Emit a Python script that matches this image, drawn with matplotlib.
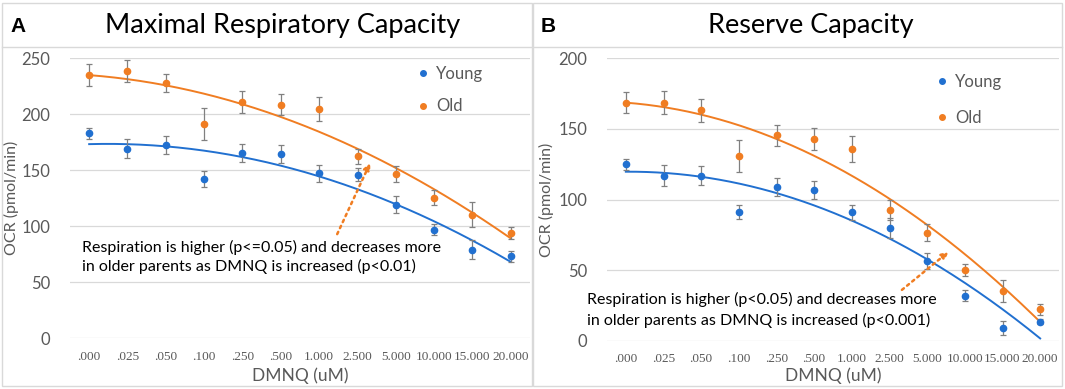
import numpy as np
import matplotlib.pyplot as plt
from matplotlib.patches import Rectangle
from matplotlib.lines import Line2D

plt.rcParams['font.family'] = ['Lato', 'DejaVu Sans']

# DMNQ concentrations (category axis)
doses = [".000", ".025", ".050", ".100", ".250", ".500", "1.000", "2.500",
         "5.000", "10.000", "15.000", "20.000"]

# Panel A: maximal respiratory capacity
max_young = [183, 169.4, 172.3, 142, 165.5, 164.3, 147.3, 146.2, 119.4, 97, 79.2, 73.2]
max_young_err = [5, 8.6, 8, 7, 8, 8, 7.5, 6, 7.8, 5, 8.5, 5]
max_old = [235, 238.7, 228, 191.3, 211, 208.6, 205, 162.5, 146.7, 125.6, 110.4, 94.3]
max_old_err = [10, 9.7, 8.3, 14, 9.5, 9.2, 10.7, 6.7, 7, 7, 11, 5.5]

# Panel B: reserve capacity
res_young = [124.9, 116.9, 116.9, 91.1, 108.8, 106.5, 90.9, 79.6, 56.4, 31.9, 8.8, 13.5]
res_young_err = [3.9, 7.3, 6.7, 4.8, 6.3, 6.4, 5.5, 7, 5.9, 4.1, 5, 1.7]
res_old = [168.6, 168.6, 163.2, 130.8, 145.5, 143.1, 136, 92.8, 76.5, 50.1, 35.4, 22.2]
res_old_err = [7.4, 8.3, 8.3, 11.1, 7.3, 7.8, 9.2, 7, 5.9, 4, 7.7, 4.1]

blue = "#2170d0"
orange = "#f07d22"
gray_txt = "#595959"
grid_c = "#d9d9d9"

W, H = 1065, 389
fig = plt.figure(figsize=(W / 100, H / 100), dpi=100)


def px_axes(left, right, top, bottom):
    return fig.add_axes([left / W, (H - bottom) / H, (right - left) / W, (bottom - top) / H])


def draw_panel(ax, young, young_err, old, old_err, ymax, note, note_xy, note_ls,
               arrow_from, arrow_to, leg_anchor, leg_space, xl_y, yl_x):
    x = np.arange(len(doses))
    xt = x + 1
    for vals, errs, col, lab in [(young, young_err, blue, "Young"), (old, old_err, orange, "Old")]:
        ax.errorbar(x, vals, yerr=errs, fmt="o", color=col, ms=4.5, ecolor="#808080",
                    elinewidth=0.9, capsize=2.2, capthick=0.9, label=lab, zorder=3)
        coef = np.polyfit(xt, vals, 2)
        xs = np.linspace(1, len(doses), 200)
        ax.plot(xs - 1, np.polyval(coef, xs), color=col, lw=1.4, zorder=2)
    ax.set_xlim(-0.5, len(doses) - 0.5)
    ax.set_ylim(0, ymax)
    ax.set_yticks(np.arange(0, ymax + 1, 50))
    ax.set_xticks(x)
    ax.set_xticklabels(doses, family="Liberation Serif", fontsize=9.5, color=gray_txt)
    ax.tick_params(axis="y", length=0, labelsize=12, labelcolor=gray_txt, pad=14)
    ax.tick_params(axis="x", length=0, pad=9)
    ax.grid(axis="y", color=grid_c, lw=0.9)
    ax.set_axisbelow(True)
    for s in ax.spines.values():
        s.set_visible(False)
    ax.set_xlabel("DMNQ (uM)", fontsize=12.5, color=gray_txt)
    ax.xaxis.set_label_coords(0.5, xl_y)
    ax.set_ylabel("OCR (pmol/min)", fontsize=11.5, color=gray_txt)
    ax.yaxis.set_label_coords(yl_x, 0.5)
    h = [Line2D([], [], ls="", marker="o", ms=4, color=blue),
         Line2D([], [], ls="", marker="o", ms=4, color=orange)]
    ax.legend(h, ["Young", "Old"], loc="upper left", bbox_to_anchor=leg_anchor,
              frameon=False, fontsize=12, borderpad=0, handlelength=0.8,
              handletextpad=0.4, labelspacing=leg_space, labelcolor=gray_txt)
    ax.text(note_xy[0], note_xy[1], note, transform=ax.transAxes, fontsize=11.5,
            va="center", ha="left", linespacing=note_ls, clip_on=False, zorder=4)
    ax.annotate("", xy=arrow_to, xytext=arrow_from,
                arrowprops=dict(arrowstyle="-|>", ls=":", color=orange, lw=1.8,
                                mutation_scale=10, shrinkA=0, shrinkB=0))


axA = px_axes(70, 530, 58.3, 338.3)
draw_panel(axA, max_young, max_young_err, max_old, max_old_err, 250,
           "Respiration is higher (p<=0.05) and decreases more\n"
           "in older parents as DMNQ is increased (p<0.01)",
           (0.026, 0.29), 1.35, (6.47, 93), (7.33, 156.5),
           (0.735, 1.003), 1.0, -0.103, -0.11)

axB = px_axes(607, 1059, 58.3, 340.7)
draw_panel(axB, res_young, res_young_err, res_old, res_old_err, 200,
           "Respiration is higher (p<0.05) and decreases more\n"
           "in older parents as DMNQ is increased (p<0.001)",
           (-0.044, 0.109), 1.45, (7.33, 36), (8.57, 63),
           (0.708, 0.974), 1.2, -0.095, -0.118)

# panel frames and titles
for x0, x1, lab, title, tx, lx in [(2, 532, "A", "Maximal Respiratory Capacity", 283, 10),
                                   (533, 1062, "B", "Reserve Capacity", 811, 541)]:
    fig.patches.append(Rectangle((x0 / W, 3 / H), (x1 - x0) / W, 383 / H, fill=False,
                                 ec=grid_c, lw=1, transform=fig.transFigure))
    fig.lines.append(Line2D([x0 / W, x1 / W], [(H - 47) / H] * 2, color=grid_c, lw=1,
                            transform=fig.transFigure))
    fig.text(tx / W, (H - 25) / H, title, fontsize=19.5, ha="center", va="center")
    fig.text(lx / W, (H - 26) / H, lab, fontsize=15, fontweight="bold",
             family="Liberation Sans", ha="left", va="center")

fig.savefig("out.png", dpi=100)
